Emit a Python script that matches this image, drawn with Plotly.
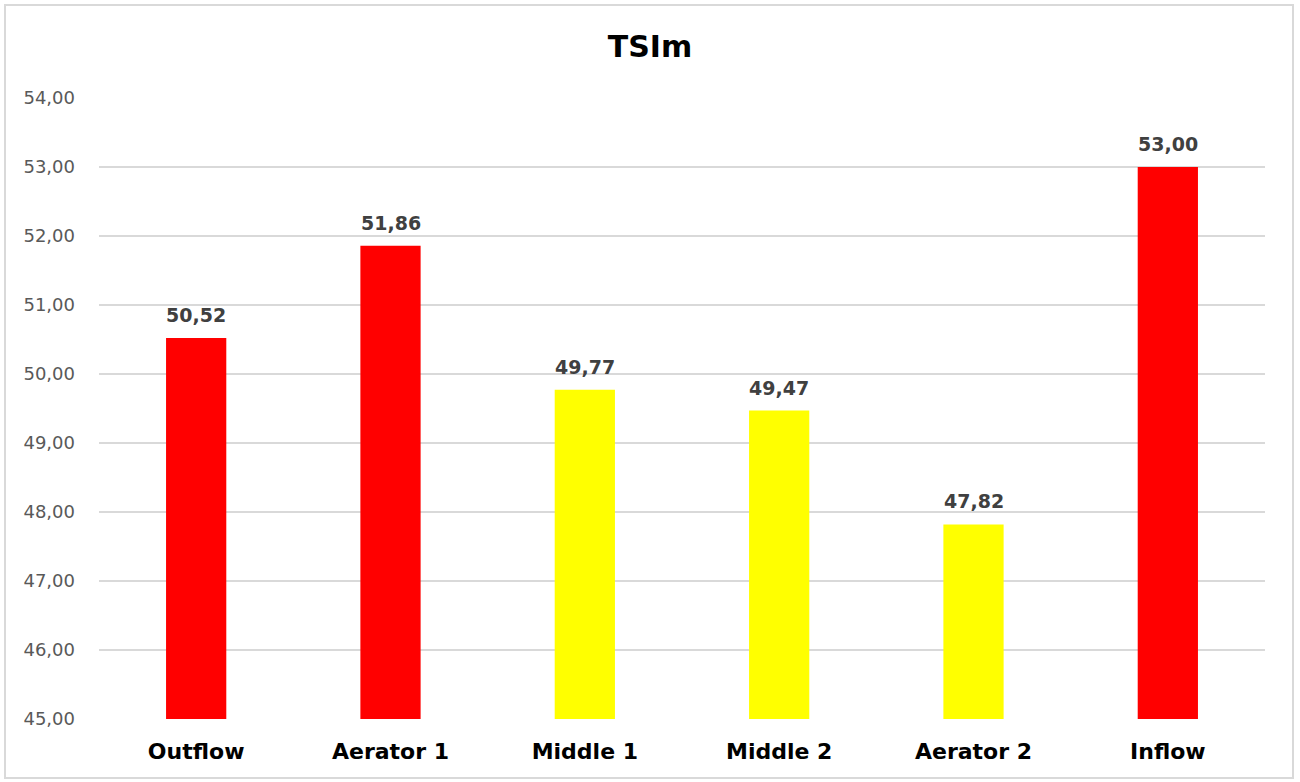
import plotly.graph_objects as go

categories = ["Outflow", "Aerator 1", "Middle 1", "Middle 2", "Aerator 2", "Inflow"]
values = [50.52, 51.86, 49.77, 49.47, 47.82, 53.00]
bar_colors = ["#FF0000", "#FF0000", "#FFFF00", "#FFFF00", "#FFFF00", "#FF0000"]
tick_vals = [45, 46, 47, 48, 49, 50, 51, 52, 53, 54]

W, H = 1300, 782
ml, mr, mt, mb = 99, 35, 98, 63
pw, ph = W - ml - mr, H - mt - mb

fig = go.Figure(go.Bar(
    x=categories, y=values,
    marker=dict(color=bar_colors, line=dict(width=0)),
    width=0.31,
    hoverinfo="x+y",
))

annotations = [
    dict(x=c, y=v, xref="x", yref="y", text=f"<b>{v:.2f}</b>".replace(".", ","),
         showarrow=False, yanchor="bottom", yshift=10,
         font=dict(family="DejaVu Sans", size=19, color="#404040"))
    for c, v in zip(categories, values)
]

fig.update_layout(
    width=W, height=H,
    margin=dict(l=ml, r=mr, t=mt, b=mb),
    paper_bgcolor="white", plot_bgcolor="white",
    separators=",.",
    showlegend=False,
    annotations=annotations,
    title=dict(text="<b>TSIm</b>", x=0.5, xanchor="center", y=1 - 46 / H, yanchor="middle",
               font=dict(family="DejaVu Sans", size=30, color="#000000")),
    xaxis=dict(showgrid=False, showline=False, ticks="", ticklabelstandoff=17,
               tickfont=dict(family="DejaVu Sans", size=22, color="#000000", weight="bold")),
    yaxis=dict(range=[45, 54], tickvals=tick_vals, tickformat=".2f",
               showgrid=True, gridcolor="#D9D9D9", gridwidth=1.5, zeroline=False,
               showline=False, ticks="", ticklabelstandoff=23,
               tickfont=dict(family="DejaVu Sans", size=18, color="#595959")),
    shapes=[dict(type="rect", xref="paper", yref="paper",
                 x0=(5 - ml) / pw, x1=(1293 - ml) / pw,
                 y0=(H - mb - 778) / ph, y1=(H - mb - 5) / ph,
                 line=dict(color="#D9D9D9", width=2), fillcolor="rgba(0,0,0,0)", layer="below")],
)

fig.write_html("out.html")
